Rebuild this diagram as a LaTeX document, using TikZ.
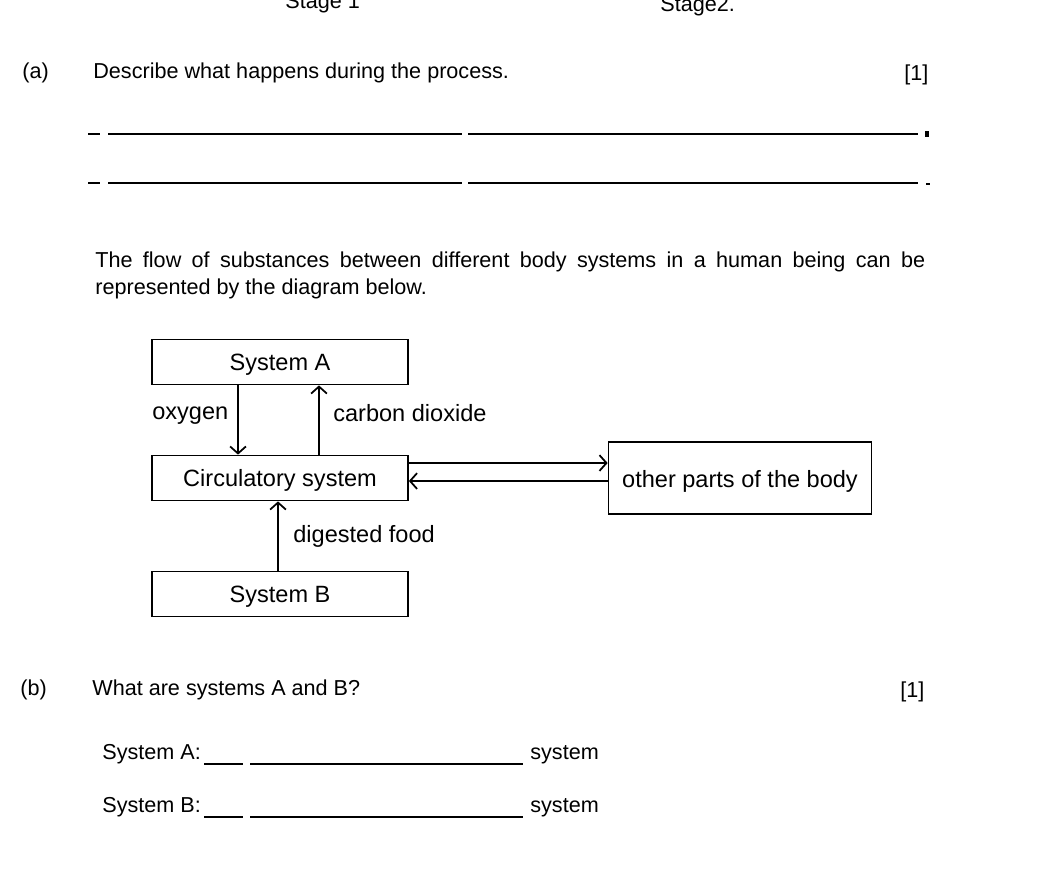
\documentclass[tikz,border=0pt]{standalone}
\usepackage{fontspec}
\setmainfont{Liberation Sans}
\usetikzlibrary{arrows.meta,positioning}
\begin{document}
\begin{tikzpicture}[x=0.02cm,y=-0.02cm,
	question/.style={anchor=base west,inner sep=0pt,font=\fontsize{12.3}{15}\selectfont},
	sysbox/.style={draw,line width=1pt,minimum width=5.12cm,minimum height=0.9cm,inner sep=0pt,text depth=0pt,font=\fontsize{13.4}{16}\selectfont},
	flowlabel/.style={anchor=base west,inner sep=0pt,font=\fontsize{13.4}{16}\selectfont},
	flow/.style={line width=1pt,-{Straight Barb[length=4pt,width=9pt,line width=1pt]}},
	answer/.style={line width=1.1pt}]
		\useasboundingbox (0,0) rectangle (1054,877);
		\fill[white] (0,0) rectangle (1054,877);

		% top of the page
		\node[question] (stageone) at (285,8) {Stage 1};
		\node[question] (stagetwo) at (660,11) {Stage2.};

		% part (a)
		\node[question] (qa) at (22,78) {(a)};
		\node[question] (qatext) at (93,78) {Describe what happens during the process.};
		\node[question] (marka) at (904,80) {[1]};
		\draw[answer] (88,134) -- (100,134);
		\draw[answer] (108,134) -- (462,134);
		\draw[answer] (468,134) -- (918,134);
		\fill (925,131) rectangle (929,137);
		\draw[answer] (88,183) -- (100,183);
		\draw[answer] (108,183) -- (462,183);
		\draw[answer] (468,183) -- (918,183);
		\draw[answer] (926,184) -- (930,184);

		\node[question] (flowtext) at (95,267) {\makebox[16.6cm][s]{The flow of substances between different body systems in a human being can be}};
		\node[question] (flowtext2) at (95,294) {represented by the diagram below.};

		% the diagram
		\node[sysbox] (sysA) at (280,362) {System A};
		\node[sysbox] (circ) at (280,478) {Circulatory system};
		\node[sysbox] (sysB) at (280,594) {System B};
		\node[sysbox,minimum width=5.26cm,minimum height=1.44cm] (other) at (740,478) {\raisebox{-1.6pt}{other parts of the body}};

		\draw[flow] ([xshift=-0.84cm]sysA.south) -- ([xshift=-0.84cm]circ.north);
		\draw[flow] ([xshift=0.78cm]circ.north) -- ([xshift=0.78cm]sysA.south);
		\draw[flow] ([yshift=0.3cm]circ.east) -- ([yshift=0.3cm]other.west);
		\draw[flow] ([yshift=-0.06cm]other.west) -- ([yshift=-0.06cm]circ.east);
		\draw[flow] ([xshift=-0.04cm]sysB.north) -- ([xshift=-0.04cm]circ.south);

		\node[flowlabel] (oxy) at (152,419) {oxygen};
		\node[flowlabel] (co2) at (333,421) {carbon dioxide};
		\node[flowlabel] (food) at (293,542) {digested food};

		% part (b)
		\node[question] (qb) at (20,695) {(b)};
		\node[question] (qbtext) at (92,695) {What are systems A and B?};
		\node[question] (markb) at (900,697) {[1]};

		\node[question] (ansA) at (102,759) {System A:};
		\draw[answer] (204,764) -- (243,764);
		\draw[answer] (250,764) -- (523,764);
		\node[question] (sysAword) at (530,759) {system};
		\node[question] (ansB) at (102,812) {System B:};
		\draw[answer] (204,817) -- (243,817);
		\draw[answer] (250,817) -- (523,817);
		\node[question] (sysBword) at (530,812) {system};

	\end{tikzpicture}
\end{document}
